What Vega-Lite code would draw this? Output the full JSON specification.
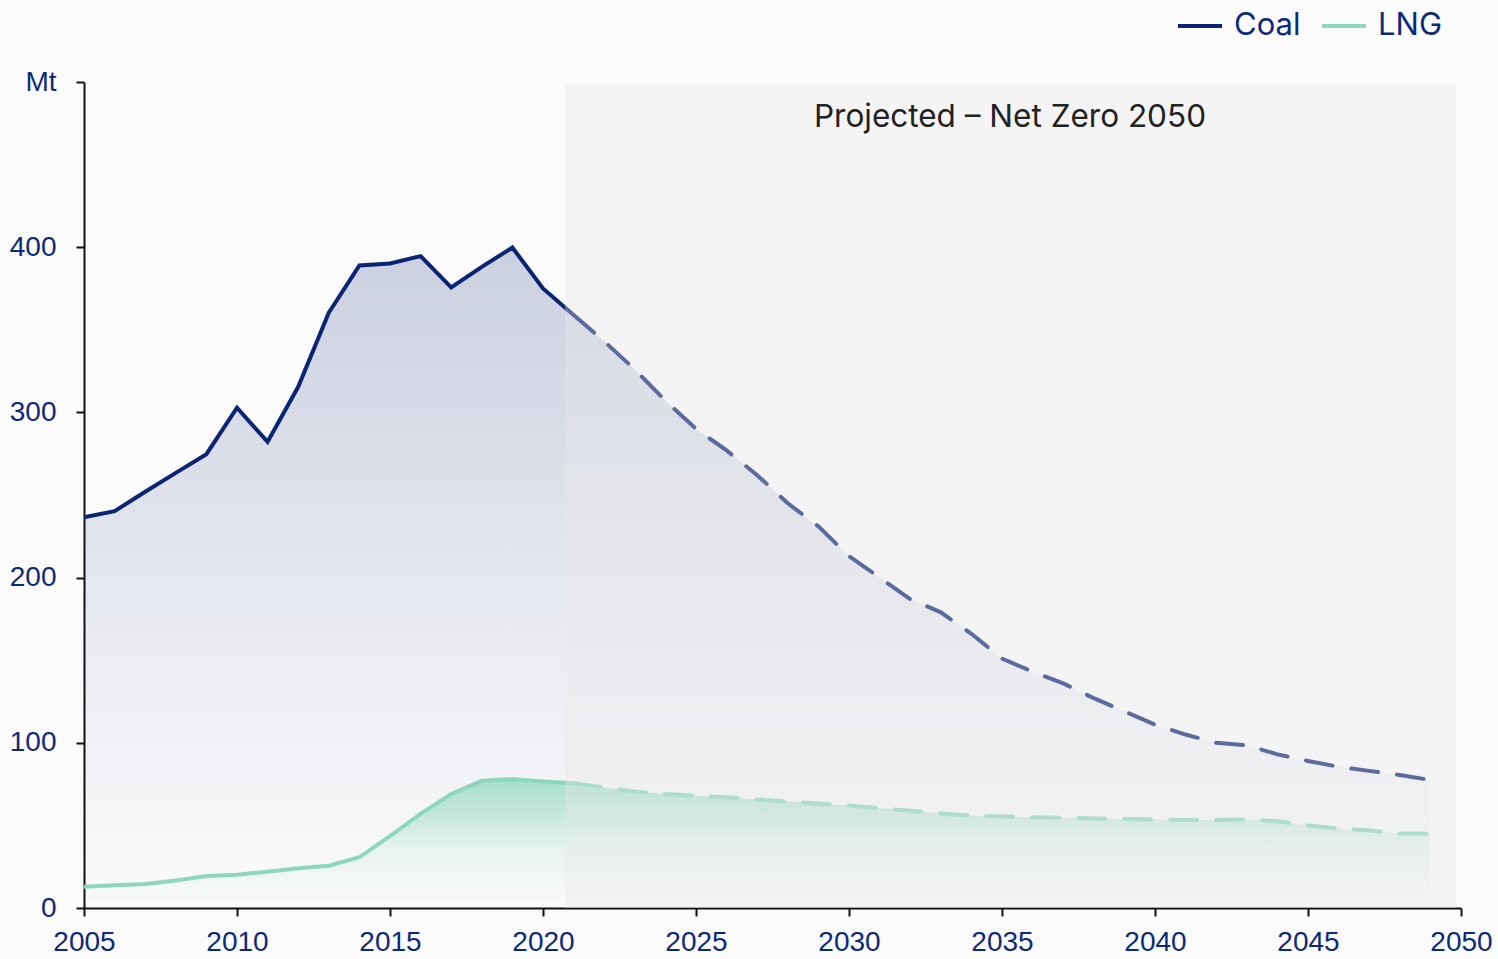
{
  "$schema": "https://vega.github.io/schema/vega-lite/v6.json",
  "width": 1377,
  "height": 826,
  "autosize": "none",
  "padding": {"left": 84, "top": 82, "right": 37, "bottom": 51},
  "background": "#fbfbfb",
  "config": {
    "view": {"stroke": null},
    "axis": {
      "domainColor": "#111111",
      "domainWidth": 2,
      "tickColor": "#111111",
      "tickWidth": 2,
      "tickSize": 8,
      "grid": false,
      "labelFont": "Liberation Sans",
      "labelFontSize": 28,
      "labelColor": "#0d2a7a",
      "title": null,
      "zindex": 1
    }
  },
  "datasets": {
    "series": [
      {"year": 2005, "series": "Coal", "value": 236.5},
      {"year": 2006, "series": "Coal", "value": 240.2},
      {"year": 2007, "series": "Coal", "value": 252},
      {"year": 2008, "series": "Coal", "value": 263.4},
      {"year": 2009, "series": "Coal", "value": 274.7},
      {"year": 2010, "series": "Coal", "value": 302.8},
      {"year": 2011, "series": "Coal", "value": 282.2},
      {"year": 2012, "series": "Coal", "value": 315.5},
      {"year": 2013, "series": "Coal", "value": 360.3},
      {"year": 2014, "series": "Coal", "value": 388.9},
      {"year": 2015, "series": "Coal", "value": 390.1},
      {"year": 2016, "series": "Coal", "value": 394.6},
      {"year": 2017, "series": "Coal", "value": 375.6},
      {"year": 2018, "series": "Coal", "value": 388.1},
      {"year": 2019, "series": "Coal", "value": 399.8},
      {"year": 2020, "series": "Coal", "value": 375},
      {"year": 2021, "series": "Coal", "value": 359},
      {"year": 2022, "series": "Coal", "value": 343},
      {"year": 2023, "series": "Coal", "value": 326},
      {"year": 2024, "series": "Coal", "value": 307},
      {"year": 2025, "series": "Coal", "value": 290},
      {"year": 2026, "series": "Coal", "value": 277},
      {"year": 2027, "series": "Coal", "value": 262},
      {"year": 2028, "series": "Coal", "value": 245},
      {"year": 2029, "series": "Coal", "value": 231},
      {"year": 2030, "series": "Coal", "value": 213},
      {"year": 2031, "series": "Coal", "value": 200},
      {"year": 2032, "series": "Coal", "value": 187},
      {"year": 2033, "series": "Coal", "value": 179},
      {"year": 2034, "series": "Coal", "value": 166},
      {"year": 2035, "series": "Coal", "value": 151},
      {"year": 2036, "series": "Coal", "value": 143},
      {"year": 2037, "series": "Coal", "value": 136},
      {"year": 2038, "series": "Coal", "value": 127},
      {"year": 2039, "series": "Coal", "value": 119},
      {"year": 2040, "series": "Coal", "value": 111},
      {"year": 2041, "series": "Coal", "value": 105},
      {"year": 2042, "series": "Coal", "value": 100},
      {"year": 2043, "series": "Coal", "value": 98.5},
      {"year": 2044, "series": "Coal", "value": 93},
      {"year": 2045, "series": "Coal", "value": 89},
      {"year": 2046, "series": "Coal", "value": 85.5},
      {"year": 2047, "series": "Coal", "value": 83},
      {"year": 2048, "series": "Coal", "value": 80.5},
      {"year": 2049, "series": "Coal", "value": 77.5},
      {"year": 2005, "series": "LNG", "value": 12.9},
      {"year": 2006, "series": "LNG", "value": 13.7},
      {"year": 2007, "series": "LNG", "value": 14.5},
      {"year": 2008, "series": "LNG", "value": 16.6},
      {"year": 2009, "series": "LNG", "value": 19.4},
      {"year": 2010, "series": "LNG", "value": 20.2},
      {"year": 2011, "series": "LNG", "value": 22},
      {"year": 2012, "series": "LNG", "value": 24},
      {"year": 2013, "series": "LNG", "value": 25.6},
      {"year": 2014, "series": "LNG", "value": 30.7},
      {"year": 2015, "series": "LNG", "value": 43.5},
      {"year": 2016, "series": "LNG", "value": 57},
      {"year": 2017, "series": "LNG", "value": 69},
      {"year": 2018, "series": "LNG", "value": 77},
      {"year": 2019, "series": "LNG", "value": 78},
      {"year": 2020, "series": "LNG", "value": 76.6},
      {"year": 2021, "series": "LNG", "value": 75.5},
      {"year": 2022, "series": "LNG", "value": 73},
      {"year": 2023, "series": "LNG", "value": 70.5},
      {"year": 2024, "series": "LNG", "value": 69},
      {"year": 2025, "series": "LNG", "value": 68},
      {"year": 2026, "series": "LNG", "value": 67},
      {"year": 2027, "series": "LNG", "value": 65.8},
      {"year": 2028, "series": "LNG", "value": 64.5},
      {"year": 2029, "series": "LNG", "value": 63.2},
      {"year": 2030, "series": "LNG", "value": 62},
      {"year": 2031, "series": "LNG", "value": 60.5},
      {"year": 2032, "series": "LNG", "value": 58.8},
      {"year": 2033, "series": "LNG", "value": 57.2},
      {"year": 2034, "series": "LNG", "value": 56},
      {"year": 2035, "series": "LNG", "value": 55.4},
      {"year": 2036, "series": "LNG", "value": 55},
      {"year": 2037, "series": "LNG", "value": 54.6},
      {"year": 2038, "series": "LNG", "value": 54.2},
      {"year": 2039, "series": "LNG", "value": 53.8},
      {"year": 2040, "series": "LNG", "value": 53.5},
      {"year": 2041, "series": "LNG", "value": 53.3},
      {"year": 2042, "series": "LNG", "value": 53.3},
      {"year": 2043, "series": "LNG", "value": 53.6},
      {"year": 2044, "series": "LNG", "value": 52.5},
      {"year": 2045, "series": "LNG", "value": 50},
      {"year": 2046, "series": "LNG", "value": 48},
      {"year": 2047, "series": "LNG", "value": 47},
      {"year": 2048, "series": "LNG", "value": 45},
      {"year": 2049, "series": "LNG", "value": 45}
    ],
    "band": [
      {"start": 2020.72, "end": 2049.84, "low": 0, "high": 498.8}
    ],
    "note": [
      {"year": 2035.26, "value": 478, "label": "Projected – Net Zero 2050"}
    ]
  },
  "layer": [
    {
      "data": {"name": "series"},
      "transform": [{"filter": "datum.series == 'Coal'"}],
      "mark": {
        "type": "area",
        "color": {
          "gradient": "linear", "x1": 0, "y1": 0, "x2": 0, "y2": 1,
          "stops": [
            {"offset": 0, "color": "rgba(11,36,116,0.2)"},
            {"offset": 0.5, "color": "rgba(11,36,116,0.09)"},
            {"offset": 1, "color": "rgba(11,36,116,0)"}
          ]
        }
      },
      "encoding": {
        "x": {"field": "year", "type": "quantitative", "scale": {"domain": [2005, 2050], "nice": false, "zero": false},
          "axis": {"values": [2005, 2010, 2015, 2020, 2025, 2030, 2035, 2040, 2045, 2050], "format": "d", "labelPadding": 12, "labelFlush": false, "labelOverlap": false, "labelBound": false}},
        "y": {"field": "value", "type": "quantitative", "scale": {"domain": [0, 500], "nice": false},
          "axis": {"values": [0, 100, 200, 300, 400, 500], "labelPadding": 20, "labelExpr": "datum.value == 500 ? 'Mt' : datum.label"}}
      }
    },
    {
      "data": {"name": "series"},
      "transform": [{"filter": "datum.series == 'LNG'"}],
      "mark": {
        "type": "area",
        "color": {
          "gradient": "linear", "x1": 0, "y1": 0, "x2": 0, "y2": 1,
          "stops": [
            {"offset": 0, "color": "rgba(141,215,189,0.75)"},
            {"offset": 0.55, "color": "rgba(141,215,189,0.15)"},
            {"offset": 1, "color": "rgba(141,215,189,0)"}
          ]
        }
      },
      "encoding": {
        "x": {"field": "year", "type": "quantitative"},
        "y": {"field": "value", "type": "quantitative"}
      }
    },
    {
      "data": {"name": "series"},
      "transform": [{"filter": "datum.year <= 2021"}],
      "mark": {"type": "line", "strokeWidth": 4, "strokeJoin": "miter", "strokeCap": "butt"},
      "encoding": {
        "x": {"field": "year", "type": "quantitative"},
        "y": {"field": "value", "type": "quantitative"},
        "color": {
          "field": "series", "type": "nominal",
          "scale": {"domain": ["Coal", "LNG"], "range": ["#0b2474", "#8dd7bd"]},
          "legend": {
            "orient": "none", "legendX": 1092, "legendY": -80, "direction": "horizontal",
            "title": null, "symbolType": "stroke", "symbolStrokeWidth": 4, "symbolSize": 1936,
            "labelFont": "Inter", "labelFontSize": 31, "labelColor": "#0d2a7a",
            "labelOffset": 10, "columnPadding": 13, "padding": 0, "labelLimit": 200
          }
        }
      }
    },
    {
      "data": {"name": "series"},
      "transform": [{"filter": "datum.year >= 2021"}],
      "mark": {"type": "line", "strokeWidth": 4, "strokeDash": [27, 19], "strokeCap": "round"},
      "encoding": {
        "x": {"field": "year", "type": "quantitative"},
        "y": {"field": "value", "type": "quantitative"},
        "color": {"field": "series", "type": "nominal", "legend": null}
      }
    },
    {
      "data": {"name": "band"},
      "mark": {"type": "rect", "color": "#eaeaea", "opacity": 0.36},
      "encoding": {
        "x": {"field": "start", "type": "quantitative"},
        "x2": {"field": "end"},
        "y": {"field": "low", "type": "quantitative"},
        "y2": {"field": "high"}
      }
    },
    {
      "data": {"name": "note"},
      "mark": {"type": "text", "font": "Inter", "fontSize": 31.5, "color": "#222222", "align": "center", "baseline": "middle"},
      "encoding": {
        "x": {"field": "year", "type": "quantitative"},
        "y": {"field": "value", "type": "quantitative"},
        "text": {"field": "label"}
      }
    }
  ]
}
